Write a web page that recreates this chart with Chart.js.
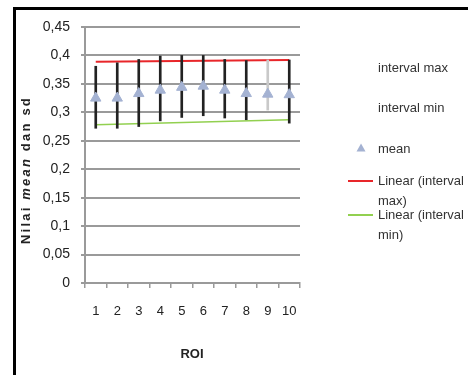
<!DOCTYPE html>
<html>
<head>
<meta charset="utf-8">
<script src="https://cdn.jsdelivr.net/npm/chart.js@4/dist/chart.umd.min.js"></script>
<style>
  body { margin: 0; background: #fff; font-family: "Liberation Sans", Arial, sans-serif; }
  #wrap { position: relative; width: 468px; height: 375px; overflow: hidden; }
  #frame { position: absolute; left: 13px; top: 7px; width: 470px; height: 380px; border-top: 3px solid #000; border-left: 3px solid #000; }
  #ytitle { position: absolute; left: 25px; top: 170px; transform: translate(-50%, -50%) rotate(-90deg); white-space: nowrap;
            font-weight: bold; font-size: 13px; letter-spacing: 2.2px; color: #222; }
  #xtitle { position: absolute; left: 192px; top: 353px; transform: translate(-50%, -50%); font-weight: bold; font-size: 13px; color: #222; }
  .leg { position: absolute; left: 378px; font-size: 13px; color: #333; white-space: nowrap; transform: translateY(-50%); }
  .sw { position: absolute; left: 348px; width: 25px; height: 2px; }
  canvas { position: absolute; left: 0; top: 0; }
</style>
</head>
<body>
<div id="wrap">
  <canvas id="myChart" width="468" height="375"></canvas>
  <div id="frame"></div>
  <div id="ytitle">Nilai <i>mean</i> dan sd</div>
  <div id="xtitle">ROI</div>
  <div class="leg" style="top:67px">interval max</div>
  <div class="leg" style="top:107px">interval min</div>
  <div class="leg" style="top:148px">mean</div>
  <div class="leg" style="top:180px">Linear (interval</div>
  <div class="leg" style="top:200px">max)</div>
  <div class="leg" style="top:214px">Linear (interval</div>
  <div class="leg" style="top:234px">min)</div>
  <div class="sw" style="top:180px;background:#e8262a"></div>
  <div class="sw" style="top:214px;background:#92d050"></div>
  <canvas id="legTri" width="14" height="14" style="left:354px;top:141px"></canvas>
</div>
<script>
// ROI 1..10
let roi = ['1','2','3','4','5','6','7','8','9','10']
let intervalMax = [0.381,0.387,0.393,0.399,0.400,0.400,0.393,0.391,0.392,0.392]
let intervalMin = [0.272,0.272,0.275,0.285,0.291,0.294,0.290,0.287,0.304,0.281]
let meanVal = [0.325,0.325,0.333,0.339,0.344,0.346,0.339,0.333,0.332,0.331]
// trend lines, read at ROI 1 and ROI 10
let trendMax = [0.389,null,null,null,null,null,null,null,null,0.392]
let trendMin = [0.278,null,null,null,null,null,null,null,null,0.287]
let yTicks = ['0','0,05','0,1','0,15','0,2','0,25','0,3','0,35','0,4','0,45']

const triColor = '#a4b2d2'
const gridColor = '#9a9a9a'

let barras = roi.map((r, i) => [intervalMin[i], intervalMax[i]])
let barColors = roi.map((r, i) => i == 8 ? '#c9c9c9' : '#222')

const config = {
  type: 'bar',
  data: {
    labels: roi,
    datasets: [
      { type: 'line', label: 'mean', data: meanVal, showLine: false, pointStyle: 'triangle',
        pointRadius: 6, pointBackgroundColor: triColor, pointBorderColor: triColor, order: 0 },
      { type: 'line', label: 'Linear (interval max)', data: trendMax, spanGaps: true, borderColor: '#e8262a',
        borderWidth: 2, pointRadius: 0, order: 2 },
      { type: 'line', label: 'Linear (interval min)', data: trendMin, spanGaps: true, borderColor: '#92d050',
        borderWidth: 1.5, pointRadius: 0, order: 2 },
      { label: 'interval', data: barras, backgroundColor: barColors, barThickness: 2, order: 1 }
    ]
  },
  options: {
    responsive: false,
    animation: false,
    layout: { padding: { left: 0, right: 168, top: 27, bottom: 0 } },
    plugins: { legend: { display: false }, tooltip: { enabled: false } },
    scales: {
      x: {
        offset: true,
        grid: { drawOnChartArea: false, drawTicks: true, tickLength: 5, color: gridColor, lineWidth: 1.5, offset: true },
        border: { color: gridColor, width: 2 },
        ticks: { color: '#222', padding: 16, autoSkip: false, maxRotation: 0, minRotation: 0,
          font: { family: 'Liberation Sans', size: 13 } },
        afterFit: function(s) { s.height = 92 }
      },
      y: {
        min: 0, max: 0.45,
        grid: { color: gridColor, lineWidth: 2, tickLength: 4 },
        border: { color: gridColor, width: 2 },
        ticks: { stepSize: 0.05, color: '#222', padding: 11, font: { family: 'Liberation Sans', size: 14 },
          callback: function(v) { return yTicks[Math.round(v / 0.05)] } },
        afterFit: function(s) { s.width = 85 }
      }
    }
  }
}
const myChart = new Chart(document.getElementById('myChart'), config)

// triangle sample for the legend
let lc = document.getElementById('legTri').getContext('2d')
lc.fillStyle = triColor
lc.beginPath()
lc.moveTo(7, 2.5); lc.lineTo(11.5, 10.5); lc.lineTo(2.5, 10.5); lc.closePath()
lc.fill()
</script>
</body>
</html>
